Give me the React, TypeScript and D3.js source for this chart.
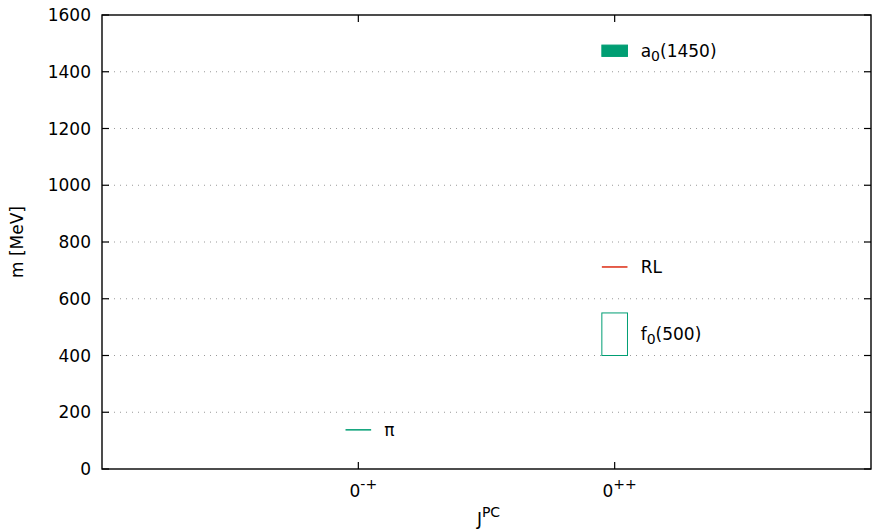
import React from "react";
import * as d3 from "d3";

// J^PC channels on the x axis
const catBase = ["0", "0"];
const catSup = ["-+", "++"];
const catPos = [1, 2];

// y axis ticks (MeV)
const yTicks = [0, 200, 400, 600, 800, 1000, 1200, 1400, 1600];

// states: name parts, channel index, mass band in MeV
const stateName = ["π", "RL", "f", "a"];
const stateSub = ["", "", "0", "0"];
const stateTail = ["", "", "(500)", "(1450)"];
const stateCat = [0, 1, 1, 1];
const stateLow = [138, 712, 400, 1454];
const stateHigh = [138, 712, 550, 1494];

// drawing style per state (kept apart from the values)
const styleOf: Record<string, { kind: "line" | "box" | "fill"; color: string }> = {
  π: { kind: "line", color: "#009e73" },
  RL: { kind: "line", color: "#dd2a12" },
  f: { kind: "box", color: "#009e73" },
  a: { kind: "fill", color: "#009e73" },
};

const W = 872;
const H = 529;
const margin = { top: 15, right: 1, bottom: 60, left: 102 };
const FONT = "'DejaVu Sans', sans-serif";

export default function App() {
  const x = d3.scaleLinear().domain([0, 3]).range([margin.left, W - margin.right]);
  const y = d3.scaleLinear().domain([0, 1600]).range([H - margin.bottom, margin.top]);
  const x0 = x.range()[0];
  const x1 = x.range()[1];
  const yb = y(0);
  const yt = y(1600);
  const halfW = 0.05;
  const tickLen = 7;

  return (
    <svg width={W} height={H} style={{ position: "absolute", left: 0, top: 0 }} fontFamily={FONT} fontSize={17}>
      <rect width={W} height={H} fill="#fff" />
      {/* grid */}
      {yTicks.slice(1, -1).map((t) => (
        <line key={"g" + t} x1={x0} x2={x1} y1={y(t)} y2={y(t)} stroke="#999" strokeWidth={1} strokeDasharray="1,5" />
      ))}
      {/* y ticks, both sides */}
      {yTicks.map((t) => (
        <g key={"y" + t}>
          <line x1={x0} x2={x0 + tickLen} y1={y(t)} y2={y(t)} stroke="#000" strokeWidth={1.2} />
          <line x1={x1} x2={x1 - tickLen} y1={y(t)} y2={y(t)} stroke="#000" strokeWidth={1.2} />
          <text x={x0 - 11} y={y(t)} dy="0.36em" textAnchor="end" fill="#000">
            {t}
          </text>
        </g>
      ))}
      {/* x ticks, bottom and top */}
      {catPos.map((c, i) => (
        <g key={"x" + i}>
          <line x1={x(c)} x2={x(c)} y1={yb} y2={yb - tickLen} stroke="#000" strokeWidth={1.2} />
          <line x1={x(c)} x2={x(c)} y1={yt} y2={yt + tickLen} stroke="#000" strokeWidth={1.2} />
          <text x={x(c) + 5} y={yb + 28} textAnchor="middle" fill="#000">
            {catBase[i]}
            <tspan fontSize={14} dy={-8}>
              {catSup[i]}
            </tspan>
          </text>
        </g>
      ))}
      {/* border */}
      <rect x={x0} y={yt} width={x1 - x0} height={yb - yt} fill="none" stroke="#000" strokeWidth={1.4} />
      {/* states */}
      {stateName.map((n, i) => {
        const s = styleOf[n];
        const cx = x(catPos[stateCat[i]]);
        const xa = x(catPos[stateCat[i]] - halfW);
        const xb = x(catPos[stateCat[i]] + halfW);
        const ya = y(stateHigh[i]);
        const yz = y(stateLow[i]);
        const mid = (ya + yz) / 2;
        return (
          <g key={"s" + i}>
            {s.kind === "line" ? (
              <line x1={xa} x2={xb} y1={ya} y2={ya} stroke={s.color} strokeWidth={1.5} />
            ) : (
              <rect
                x={xa}
                y={ya}
                width={xb - xa}
                height={yz - ya}
                fill={s.kind === "fill" ? s.color : "none"}
                stroke={s.color}
                strokeWidth={1}
              />
            )}
            <text x={cx + 26} y={mid} dy="0.36em" fill="#000">
              {n}
              {stateSub[i] && (
                <tspan fontSize={14} dy={4}>
                  {stateSub[i]}
                </tspan>
              )}
              {stateTail[i] && <tspan dy={stateSub[i] ? -4 : 0}>{stateTail[i]}</tspan>}
            </text>
          </g>
        );
      })}
      {/* axis titles */}
      <text x={(x0 + x1) / 2 + 2} y={H - 4} textAnchor="middle" fill="#000">
        J
        <tspan fontSize={14} dy={-8}>
          PC
        </tspan>
      </text>
      <text transform={`translate(23,${(yt + yb) / 2}) rotate(-90)`} textAnchor="middle" fill="#000">
        m [MeV]
      </text>
    </svg>
  );
}
